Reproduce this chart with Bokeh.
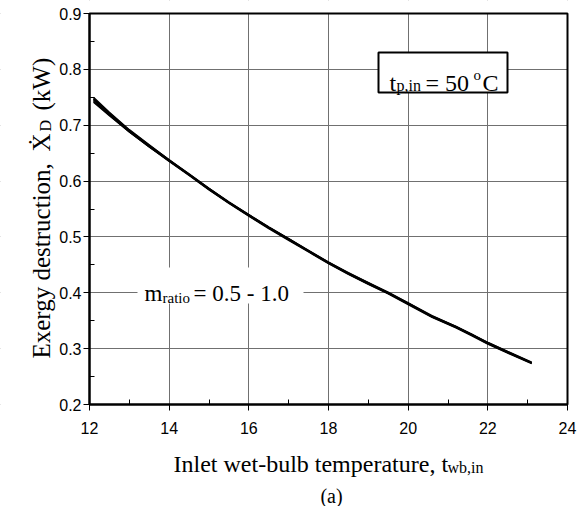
import math

from bokeh.plotting import figure
from bokeh.models import FixedTicker, Label, BoxAnnotation, LinearAxis, Grid, Range1d
from bokeh.embed import file_html
from bokeh.resources import INLINE

# Inlet wet-bulb temperature (deg C)
t_wb = [12.1, 12.5, 13.0, 13.5, 14.0, 14.5, 15.0, 15.5, 16.0, 16.5, 17.0, 17.5,
        18.0, 18.5, 19.0, 19.5, 20.0, 20.6, 21.2, 21.6, 22.0, 22.5, 23.1]

# Exergy destruction (kW) for mass-flow ratios 0.5 ... 1.0
xd_m05 = [0.750, 0.723, 0.692, 0.665, 0.638, 0.613, 0.587, 0.563, 0.540, 0.518, 0.497, 0.476,
          0.455, 0.436, 0.418, 0.401, 0.382, 0.359, 0.340, 0.326, 0.311, 0.295, 0.276]
xd_m06 = [0.748, 0.722, 0.691, 0.664, 0.638, 0.612, 0.587, 0.562, 0.540, 0.517, 0.497, 0.475,
          0.455, 0.435, 0.418, 0.400, 0.382, 0.358, 0.340, 0.325, 0.311, 0.294, 0.275]
xd_m07 = [0.747, 0.721, 0.690, 0.663, 0.637, 0.612, 0.586, 0.562, 0.539, 0.517, 0.496, 0.475,
          0.454, 0.435, 0.417, 0.400, 0.381, 0.358, 0.339, 0.325, 0.310, 0.294, 0.275]
xd_m08 = [0.745, 0.719, 0.689, 0.662, 0.636, 0.611, 0.585, 0.561, 0.538, 0.516, 0.495, 0.474,
          0.453, 0.434, 0.416, 0.399, 0.380, 0.357, 0.338, 0.324, 0.309, 0.293, 0.274]
xd_m09 = [0.743, 0.718, 0.688, 0.661, 0.636, 0.611, 0.585, 0.561, 0.538, 0.516, 0.495, 0.474,
          0.453, 0.434, 0.416, 0.399, 0.380, 0.357, 0.338, 0.324, 0.309, 0.293, 0.274]
xd_m10 = [0.741, 0.717, 0.688, 0.661, 0.635, 0.610, 0.584, 0.560, 0.537, 0.515, 0.494, 0.473,
          0.452, 0.433, 0.415, 0.398, 0.379, 0.356, 0.337, 0.323, 0.308, 0.292, 0.273]

x_ticks = [12, 14, 16, 18, 20, 22, 24]
x_minor = [13, 15, 17, 19, 21, 23]
y_ticks = [0.2, 0.3, 0.4, 0.5, 0.6, 0.7, 0.8, 0.9]
y_minor = [0.25, 0.35, 0.45, 0.55, 0.65, 0.75, 0.85]

SERIF = "Liberation Serif"
SANS = "Liberation Sans"

# page size and the pixel box of the plotting area inside it
W, H = 586, 506
BOX_L, BOX_R, BOX_T, BOX_B = 89, 567, 13, 404
X0, X1 = x_ticks[0], x_ticks[-1]
Y0, Y1 = y_ticks[0], y_ticks[-1]

# the frame covers the whole page; the axes sit at fixed data locations,
# so that titles with sub/superscripts can be drawn anywhere on the page
px_x = (BOX_R - BOX_L) / (X1 - X0)
px_y = (BOX_B - BOX_T) / (Y1 - Y0)
x_range = Range1d(X0 - BOX_L / px_x, X1 + (W - BOX_R) / px_x)
y_range = Range1d(Y0 - (H - BOX_B) / px_y, Y1 + BOX_T / px_y)

p = figure(frame_width=W, frame_height=H, min_border=0,
           x_range=x_range, y_range=y_range,
           x_axis_location=None, y_axis_location=None,
           output_backend="svg", toolbar_location=None)
p.center = []
p.background_fill_color = "white"
p.border_fill_color = "white"
p.outline_line_color = None

# grid lines, then white strips that trim them to the plotting area
for dim, ticks in ((0, x_ticks), (1, y_ticks)):
    p.add_layout(Grid(dimension=dim, ticker=FixedTicker(ticks=ticks),
                      grid_line_color="#707070", grid_line_width=1))
for kw in (dict(right=X0), dict(left=X1), dict(top=Y0), dict(bottom=Y1)):
    p.add_layout(BoxAnnotation(level="underlay", fill_color="white", fill_alpha=1.0,
                               line_alpha=0, **kw))

xaxis = LinearAxis(fixed_location=Y0, bounds=(X0, X1),
                   ticker=FixedTicker(ticks=x_ticks, minor_ticks=x_minor))
yaxis = LinearAxis(fixed_location=X0, bounds=(Y0, Y1),
                   ticker=FixedTicker(ticks=y_ticks, minor_ticks=y_minor))
for ax in (xaxis, yaxis):
    ax.axis_line_color = "black"
    ax.axis_line_width = 2
    ax.major_tick_line_color = "black"
    ax.minor_tick_line_color = "black"
    ax.major_tick_in = 0
    ax.major_tick_out = 6
    ax.minor_tick_in = 5
    ax.minor_tick_out = 0
    ax.major_label_text_font = SANS
    ax.major_label_text_font_size = "16px"
    ax.major_label_text_color = "black"
xaxis.major_label_standoff = 11
yaxis.major_label_standoff = 2
p.add_layout(xaxis, "below")
p.add_layout(yaxis, "left")

for ys in (xd_m05, xd_m06, xd_m07, xd_m08, xd_m09, xd_m10):
    p.line(t_wb, ys, line_color="black", line_width=1.4)

# border of the plotting area (top and right sides)
p.add_layout(BoxAnnotation(left=X0, right=X1, bottom=Y0, top=Y1,
                           fill_color=None, line_color="black", line_alpha=1.0,
                           line_width=2))


def lab(text, x, y, size, angle=0.0, align="left"):
    """Text placed by page pixel (x from the left, y from the top)."""
    p.add_layout(Label(x=x, y=H - y, x_units="screen", y_units="screen", text=text,
                       text_font=SERIF, text_font_size=f"{size}px", text_color="black",
                       angle=angle, text_align=align, text_baseline="alphabetic"))


# y-axis title, reading upwards, with subscript D
up = math.pi / 2
lab("Exergy destruction,", 41, 358, 25, angle=up)
lab("\u1E8A", 41, 151, 25, angle=up)
lab("D", 44.5, 131, 16, angle=up)
lab("(kW)", 41, 110, 25, angle=up)

# x-axis title with subscript
lab("Inlet wet-bulb temperature, t", 173, 463, 24)
lab("wb,in", 447, 467, 16)

# panel tag
lab("(a)", 331, 495, 20, align="center")

# inlet water temperature box
p.add_layout(BoxAnnotation(left=378, right=507, top=H - 52, bottom=H - 92,
                           left_units="screen", right_units="screen",
                           bottom_units="screen", top_units="screen",
                           fill_color="white", fill_alpha=1.0,
                           line_color="black", line_alpha=1.0, line_width=2))
lab("t", 389, 82, 24)
lab("p,in", 396, 85, 16)
lab("= 50", 425, 82, 24)
lab("o", 473, 74, 15)
lab("C", 482, 82, 24)

# mass ratio note over a white patch
p.add_layout(BoxAnnotation(left=137, right=303, top=H - 267, bottom=H - 303,
                           left_units="screen", right_units="screen",
                           bottom_units="screen", top_units="screen",
                           fill_color="white", fill_alpha=1.0, line_alpha=0))
lab("m", 144, 293, 23)
lab("ratio", 162, 297, 15)
lab("= 0.5 - 1.0", 193, 293, 23)

open("out.html", "w").write(file_html(p, INLINE))
